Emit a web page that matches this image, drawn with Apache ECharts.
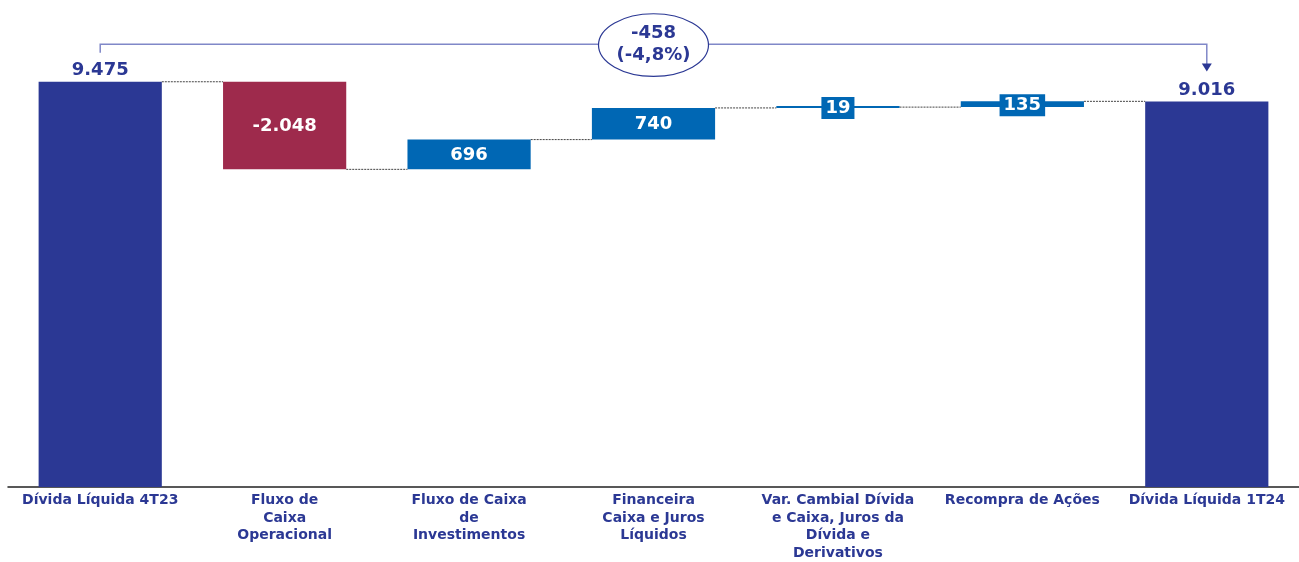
<!DOCTYPE html>
<html>
<head>
<meta charset="utf-8">
<script src="https://cdn.jsdelivr.net/npm/echarts@6/dist/echarts.min.js"></script>
<style>
html,body{margin:0;padding:0;background:#fff;overflow:hidden;}
#chart{width:1299px;height:562px;}
</style>
</head>
<body>
<div id="chart"></div>
<script>
// ---- data ----
const categories = [
  'Dívida Líquida 4T23',
  'Fluxo de\nCaixa\nOperacional',
  'Fluxo de Caixa\nde\nInvestimentos',
  'Financeira\nCaixa e Juros\nLíquidos',
  'Var. Cambial Dívida\ne Caixa, Juros da\nDívida e\nDerivativos',
  'Recompra de Ações',
  'Dívida Líquida 1T24'
];
const startValue = 9475;
const deltas = [-2048, 696, 740, 19, 135];
const endValue = 9016;
const totalChange = -458;
const totalChangePct = '(-4,8%)';

// ---- colours ----
const DARK = '#2B3894';
const RED = '#9E2A4C';
const BLUE = '#0067B4';
const FONT = "'DejaVu Sans', sans-serif";

function fmt(v) {
  const s = Math.abs(Math.round(v)).toString().replace(/\B(?=(\d{3})+(?!\d))/g, '.');
  return (v < 0 ? '-' : '') + s;
}

// build waterfall table
const base = [0];
const visible = [startValue];
const colors = [DARK];
const levels = [startValue];
let run = startValue;
deltas.forEach(d => {
  const next = run + d;
  base.push(Math.min(run, next));
  visible.push(Math.abs(d));
  colors.push(d < 0 ? RED : BLUE);
  run = next;
  levels.push(run);
});
base.push(0);
visible.push(endValue);
colors.push(DARK);

const labelValues = [startValue].concat(deltas).concat([endValue]);

const visData = visible.map((v, i) => {
  const isTotal = (i === 0 || i === visible.length - 1);
  const small = !isTotal && v < 300;
  return {
    value: v,
    itemStyle: { color: colors[i] },
    label: isTotal ? {
      show: true, position: 'top', distance: 2, color: DARK,
      fontSize: 18, fontWeight: 'bold', fontFamily: FONT,
      formatter: () => fmt(labelValues[i])
    } : {
      show: true, position: 'inside', color: '#fff', offset: [0, 1],
      fontSize: 18, fontWeight: 'bold', fontFamily: FONT,
      backgroundColor: small ? BLUE : 'transparent',
      padding: small ? [1, 4, 0, 4] : 0, lineHeight: 21,
      formatter: () => fmt(labelValues[i])
    }
  };
});

const connectorData = levels.map((l, i) => [i, l]);

const chart = echarts.init(document.getElementById('chart'));
chart.setOption({
  animation: false,
  grid: { left: 8, width: 1300, top: 59.3, bottom: 70 },
  xAxis: {
    type: 'category',
    data: categories,
    axisTick: { show: false },
    axisLine: { lineStyle: { color: '#222', width: 1.5 } },
    axisLabel: {
      interval: 0, color: DARK, fontWeight: 'bold', fontSize: 14,
      fontFamily: FONT, lineHeight: 17.5, margin: 5
    }
  },
  yAxis: { type: 'value', min: 0, max: 10000, show: false },
  series: [
    {
      type: 'bar', stack: 'w', data: base, barWidth: '66.8%',
      itemStyle: { color: 'transparent' }, silent: true
    },
    {
      type: 'bar', stack: 'w', data: visData, barWidth: '66.8%', barMinHeight: 2
    },
    {
      type: 'custom', clip: false, silent: true,
      data: connectorData,
      renderItem: function (params, api) {
        const i = api.value(0);
        if (i >= categories.length - 1) return;
        const p = api.coord([i, api.value(1)]);
        const bw = api.size([1, 0])[0];
        return {
          type: 'line',
          shape: { x1: p[0] + bw * 0.334, y1: p[1], x2: p[0] + bw * 0.666, y2: p[1] },
          style: { stroke: '#444', lineWidth: 1, lineDash: [2, 1] }
        };
      }
    },
    {
      type: 'custom', clip: false, silent: true, z: 10,
      data: [[0, startValue, categories.length - 1, endValue]],
      renderItem: function (params, api) {
        const a = api.coord([api.value(0), api.value(1)]);
        const b = api.coord([api.value(2), api.value(3)]);
        const y = a[1] - 37.5;
        const cx = (a[0] + b[0]) / 2;
        const arrowBottom = b[1] - 30;
        return {
          type: 'group',
          children: [
            { type: 'polyline', shape: { points: [[a[0], y + 8.5], [a[0], y], [b[0], y], [b[0], arrowBottom - 6]] },
              style: { stroke: '#8088C8', lineWidth: 1.5, fill: null } },
            { type: 'polygon', shape: { points: [[b[0] - 5, arrowBottom - 8], [b[0] + 5, arrowBottom - 8], [b[0], arrowBottom]] },
              style: { fill: DARK } },
            { type: 'ellipse', shape: { cx: cx, cy: y + 0.8, rx: 55, ry: 31.3 },
              style: { fill: '#fff', stroke: DARK, lineWidth: 1.2 } },
            { type: 'text', x: cx, y: y,
              style: { text: fmt(totalChange) + '\n' + totalChangePct, fill: DARK,
                font: "bold 18px " + FONT, lineHeight: 22, align: 'center', verticalAlign: 'middle' } }
          ]
        };
      }
    }
  ]
});
</script>
</body>
</html>
